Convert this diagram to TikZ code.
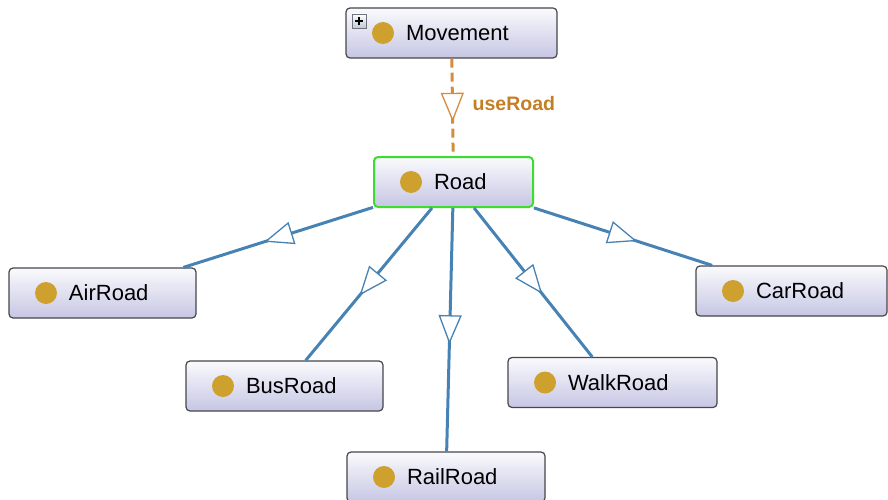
\documentclass[tikz,border=0pt]{standalone}
\usepackage{fontspec}
\setmainfont{Liberation Sans}
\usetikzlibrary{arrows.meta,decorations.markings}

\definecolor{boxtop}{RGB}{250,250,253}
\definecolor{boxbot}{RGB}{198,198,228}
\definecolor{boxline}{RGB}{70,70,75}
\definecolor{roadgreen}{RGB}{60,220,50}
\definecolor{dotgold}{RGB}{206,160,46}
\definecolor{isablue}{RGB}{70,130,180}
\definecolor{propline}{RGB}{214,140,62}
\definecolor{proptext}{RGB}{196,126,36}
\definecolor{btnline}{RGB}{110,115,125}
\definecolor{btnbot}{RGB}{190,200,215}

% class name with the gold dot to its left
\newcommand\clsname[2]{\makebox[#1][l]{\hspace*{60pt}#2}}

\tikzset{
  cls/.style={rectangle, rounded corners=4pt, draw=boxline, line width=1.2pt,
    top color=boxtop, bottom color=boxbot, minimum height=50pt, inner sep=0pt,
    font=\fontsize{22}{26}\selectfont,
    path picture={\fill[dotgold] ([xshift=37pt]path picture bounding box.west) circle (11pt);}},
  sub/.style={color=isablue, line width=3pt, postaction={decorate},
    decoration={markings, mark=at position {0.5*\pgfdecoratedpathlength+14.5pt} with
      {\arrow{Triangle[length=29pt,width=23pt,line width=1.3pt,fill=white]}}}},
  objprop/.style={color=propline, line width=3pt, dash pattern=on 9pt off 5pt,
    postaction={decorate},
    decoration={markings, mark=at position {0.5*\pgfdecoratedpathlength+14.5pt} with
      {\pgfsetdash{}{0pt}\arrow{Triangle[length=29pt,width=23pt,line width=1.3pt,fill=white]}}}},
  proplabel/.style={text=proptext, font=\fontsize{19.5}{23}\selectfont\bfseries, inner sep=0pt},
  expander/.style={rectangle, draw=btnline, line width=0.8pt, top color=white, bottom color=btnbot,
    minimum size=14pt, inner sep=0pt,
    path picture={\draw[black, line width=1.6pt]
      ([xshift=-4pt]path picture bounding box.center) -- ([xshift=4pt]path picture bounding box.center)
      ([yshift=-4pt]path picture bounding box.center) -- ([yshift=4pt]path picture bounding box.center);}},
}

\begin{document}
\begin{tikzpicture}[x=1pt, y=-1pt]
  \useasboundingbox (0,0) rectangle (888,500);

  % classes
  \node[cls] (move) at (451.5,33)  {\clsname{211pt}{Movement}};
  \node[cls, draw=roadgreen, line width=2pt] (road) at (453.5,182) {\clsname{159pt}{Road}};
  \node[cls] (air)  at (102.5,293) {\clsname{187pt}{AirRoad}};
  \node[cls] (car)  at (791.5,291) {\clsname{191pt}{CarRoad}};
  \node[cls] (bus)  at (284.5,386) {\clsname{197pt}{BusRoad}};
  \node[cls] (walk) at (612.5,382.5) {\clsname{209pt}{WalkRoad}};
  \node[cls] (rail) at (446,477)   {\clsname{198pt}{RailRoad}};

  % expand button on Movement
  \node[expander] (moveplus) at (359,21) {};

  % object property
  \draw[objprop] (move) -- (road);
  \node[proplabel, anchor=west] (uselbl) at (472.5,104) {useRoad};

  % subclass links
  \draw[sub] (road) -- (air);
  \draw[sub] (road) -- (bus);
  \draw[sub] (road) -- (rail);
  \draw[sub] (road) -- (walk);
  \draw[sub] (road) -- (car);
\end{tikzpicture}
\end{document}
